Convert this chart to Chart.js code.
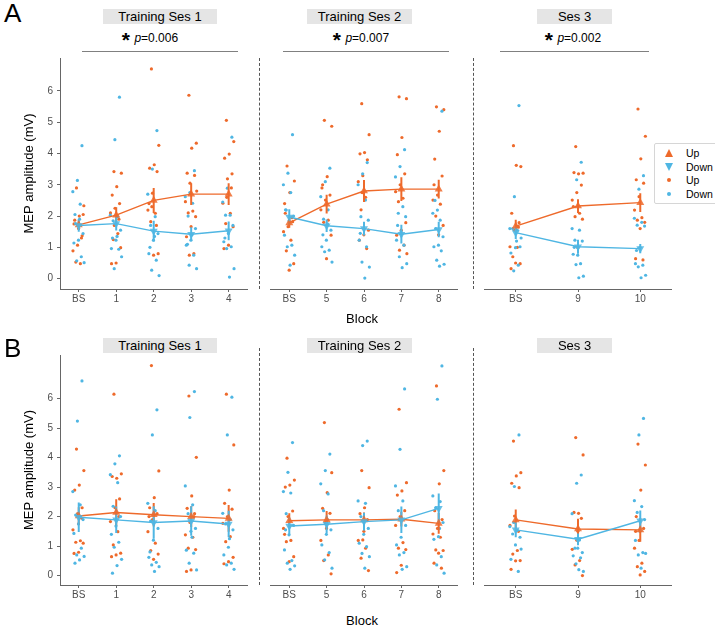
<!DOCTYPE html>
<html>
<head>
<meta charset="utf-8">
<script src="https://cdn.jsdelivr.net/npm/chart.js@4.4.1/dist/chart.umd.min.js"></script>
<style>
  body { margin:0; width:715px; height:626px; position:relative; overflow:hidden; background:#fff;
         font-family:"Liberation Sans", Arial, sans-serif; color:#000; }
  canvas { position:absolute; }
  .strip { position:absolute; background:#e5e5e5; font-size:13px; text-align:center; height:15px; line-height:15px; }
  .sep { position:absolute; width:0; border-left:1px dashed #555; }
  .pline { position:absolute; height:0; border-top:1.5px solid #808080; }
  .ptext { position:absolute; font-size:12px; white-space:nowrap; transform:translateX(-50%); line-height:14px; }
  .ptext b { font-size:21px; position:relative; top:5px; margin-right:1px; }
  .letter { position:absolute; left:4px; font-size:26px; line-height:26px; }
  .xlab { position:absolute; font-size:13px; transform:translate(-50%,-50%); }
  .legend { position:absolute; left:654px; top:143px; width:70px; height:59px; border:1px solid #d6d6d6; border-radius:2px; background:#fff; }
  .li { position:absolute; left:31px; font-size:10.5px; line-height:12px; }
  .sym { position:absolute; width:0; height:0; }
</style>
</head>
<body>
<script>
// categories
const blocks1 = ['BS', '1', '2', '3', '4'];
const blocks2 = ['BS', '5', '6', '7', '8'];
const blocks3 = ['BS', '9', '10'];

// ---------- panel A : individual values (mV), one list per block ----------
const aS1Up = [
  [2.9, 2.33, 2.0, 1.87, 1.37, 1.07, 0.89, 0.48, 0.53, 2.05, 1.6, 1.75, 1.3],
  [3.42, 3.37, 2.94, 2.67, 2.4, 2.25, 2.1, 1.44, 1.25, 0.99, 0.5, 0.48, 1.9, 1.7],
  [6.7, 4.26, 3.64, 3.53, 3.42, 2.73, 2.19, 2.09, 1.82, 0.8, 0.75, 2.4, 1.7, 2.3],
  [5.86, 4.33, 4.17, 3.37, 3.3, 3.05, 2.46, 2.16, 2.1, 1.98, 1.66, 1.34, 0.8, 0.75, 2.8],
  [5.06, 4.38, 3.98, 3.85, 3.35, 3.19, 2.41, 2.09, 1.76, 1.66, 1.07, 0.96, 2.9, 2.6]
];
const aS1Down = [
  [4.25, 3.14, 2.78, 2.38, 1.76, 1.44, 1.23, 1.14, 0.7, 0.57, 0.51, 1.9, 2.05],
  [5.8, 4.44, 2.03, 1.98, 1.85, 1.55, 1.23, 0.96, 0.94, 0.32, 0.7, 1.35, 1.3],
  [4.73, 3.5, 2.7, 1.98, 1.7, 1.44, 1.23, 0.8, 0.59, 0.27, 0.1, 1.35, 1.0],
  [3.45, 2.75, 2.62, 2.41, 2.0, 1.6, 1.23, 1.07, 0.75, 0.43, 0.32, 1.4, 1.1],
  [4.52, 2.89, 2.45, 2.03, 2.03, 1.7, 1.44, 1.18, 1.02, 0.96, 0.32, 0.05, 1.3]
];
const aS2Up = [
  [3.6, 3.12, 2.75, 2.09, 1.82, 1.66, 1.5, 1.23, 0.89, 0.48, 0.27, 2.4, 1.95],
  [5.06, 4.87, 3.26, 3.0, 2.67, 2.51, 2.2, 1.87, 1.8, 1.39, 0.64, 2.9],
  [5.59, 4.6, 4.03, 3.99, 3.8, 3.29, 3.1, 2.6, 2.2, 1.55, 1.4, 1.23, 0.96, 2.75],
  [5.81, 5.75, 4.51, 3.96, 3.35, 3.0, 2.78, 2.57, 2.46, 1.79, 1.55, 1.39, 1.07, 0.91, 0.8],
  [5.49, 5.4, 4.71, 3.82, 3.28, 2.67, 2.51, 2.38, 2.0, 1.7, 1.4, 3.0]
];
const aS2Down = [
  [4.6, 3.37, 3.0, 2.75, 2.19, 2.0, 1.85, 1.39, 1.07, 1.02, 0.75, 0.43, 2.2],
  [3.53, 3.1, 2.62, 2.2, 1.9, 1.55, 1.23, 1.02, 0.91, 0.86, 0.53, 1.75, 1.4],
  [3.71, 3.35, 3.0, 2.51, 1.98, 1.87, 1.6, 1.23, 1.02, 0.53, 0.37, 0.02, 1.45],
  [4.12, 3.58, 3.25, 2.3, 2.09, 1.98, 1.5, 1.23, 1.07, 0.7, 0.48, 0.35, 1.7],
  [5.35, 2.19, 2.09, 1.87, 1.6, 1.34, 1.07, 1.02, 0.89, 0.59, 0.46, 0.4, 2.5]
];
const aS3Up = [
  [4.25, 3.58, 3.62, 2.09, 1.79, 1.55, 1.02, 1.0, 0.7, 0.48, 0.5, 0.32, 1.65],
  [4.22, 3.37, 3.35, 3.39, 2.99, 2.75, 2.51, 2.09, 1.98, 1.9, 0.99, 2.3],
  [5.42, 4.55, 3.83, 3.16, 3.05, 2.62, 2.19, 1.95, 1.87, 1.8, 1.6, 0.64, 0.6]
];
const aS3Down = [
  [5.53, 2.62, 1.6, 1.55, 1.6, 1.02, 0.99, 0.82, 0.43, 0.25, 1.3, 1.2],
  [3.72, 3.16, 1.6, 1.55, 1.23, 1.2, 0.75, 0.78, 0.48, 0.45, 0.08, 0.03, 1.0],
  [3.29, 2.86, 1.93, 1.8, 1.71, 1.68, 1.0, 0.48, 0.43, 0.38, 0.11, 0.03, 0.9]
];
// group means and standard errors, panel A
const aS1UpMean = [1.72, 2.03, 2.5, 2.7, 2.7];
const aS1UpSe = [0.15, 0.25, 0.4, 0.35, 0.35];
const aS1DownMean = [1.7, 1.76, 1.52, 1.42, 1.53];
const aS1DownSe = [0.2, 0.22, 0.33, 0.22, 0.3];
const aS2UpMean = [1.78, 2.38, 2.8, 2.86, 2.86];
const aS2UpSe = [0.15, 0.3, 0.35, 0.38, 0.3];
const aS2DownMean = [1.97, 1.69, 1.6, 1.42, 1.57];
const aS2DownSe = [0.25, 0.2, 0.22, 0.3, 0.25];
const aS3UpMean = [1.68, 2.32, 2.43];
const aS3UpSe = [0.2, 0.22, 0.3];
const aS3DownMean = [1.47, 1.02, 0.96];
const aS3DownSe = [0.2, 0.22, 0.15];

// ---------- panel B ----------
const bS1Up = [
  [4.29, 3.56, 3.07, 2.9, 2.3, 2.1, 1.55, 1.18, 1.13, 1.1, 0.79, 0.75, 1.95],
  [6.15, 3.45, 3.3, 3.36, 2.6, 2.3, 1.83, 1.49, 1.04, 0.76, 0.7, 0.64, 2.0],
  [7.12, 3.55, 2.64, 2.3, 2.1, 1.9, 1.49, 1.1, 0.85, 0.73, 0.55, 2.0],
  [6.09, 4.01, 2.7, 2.28, 2.1, 1.8, 1.38, 1.3, 0.93, 0.88, 0.19, 0.14, 2.0],
  [6.15, 4.43, 2.9, 2.45, 2.25, 2.0, 1.77, 1.32, 1.15, 0.62, 0.47, 0.4]
];
const bS1Down = [
  [6.6, 5.24, 2.85, 2.4, 2.05, 1.9, 1.75, 1.43, 0.93, 0.7, 0.65, 0.53, 0.42],
  [4.06, 3.79, 3.42, 3.15, 2.35, 2.0, 1.68, 1.4, 1.13, 0.96, 0.55, 0.34, 0.08],
  [5.62, 4.77, 2.45, 2.2, 1.85, 1.6, 1.2, 0.62, 0.45, 0.36, 0.3, 0.14, 0.8],
  [6.24, 5.36, 3.04, 2.4, 2.1, 1.6, 1.5, 0.86, 0.76, 0.42, 0.19, 1.3],
  [6.05, 4.77, 2.11, 1.9, 1.75, 1.55, 0.96, 0.7, 0.42, 0.36, 0.21, 1.25]
];
const bS2Up = [
  [3.98, 3.24, 3.07, 3.0, 2.19, 2.0, 1.6, 1.19, 1.15, 0.64, 0.47, 1.4],
  [5.19, 3.49, 2.81, 2.28, 2.11, 1.8, 1.19, 0.7, 0.51, 0.06, 1.6],
  [3.56, 2.98, 2.3, 2.1, 1.9, 1.21, 1.19, 0.93, 0.59, 0.17, 1.5],
  [5.64, 3.15, 2.87, 2.73, 2.2, 2.0, 1.7, 1.12, 0.93, 0.88, 0.35, 0.1],
  [6.43, 3.56, 3.11, 2.2, 1.9, 1.6, 1.41, 1.3, 0.87, 0.85, 0.76, 0.42, 0.25]
];
const bS2Down = [
  [4.51, 3.5, 2.85, 2.8, 2.1, 1.7, 1.38, 0.87, 0.51, 0.42, 0.33, 0.21, 1.55],
  [4.12, 3.56, 3.11, 2.77, 2.2, 1.55, 1.4, 1.04, 0.78, 0.53, 0.25, 1.9],
  [4.56, 4.41, 2.53, 2.45, 2.0, 1.6, 1.4, 1.1, 0.98, 0.75, 0.64, 0.25],
  [6.33, 4.28, 3.04, 2.53, 2.2, 1.7, 1.3, 1.04, 0.78, 0.7, 0.3, 0.21],
  [7.11, 5.98, 2.7, 2.51, 2.3, 1.8, 1.32, 1.23, 0.64, 0.36, 0.08, 1.6]
];
const bS3Up = [
  [4.56, 3.49, 3.38, 3.13, 2.98, 2.02, 1.7, 0.85, 0.73, 0.51, 0.5, 0.21, 1.5],
  [4.68, 4.09, 2.11, 2.14, 1.94, 1.2, 0.89, 0.51, 0.36, 0.0, 1.5],
  [4.46, 3.75, 2.9, 2.0, 1.6, 1.19, 0.93, 0.42, 0.3, 0.14, 0.02, 1.5]
];
const bS3Down = [
  [4.77, 3.02, 1.66, 1.53, 1.41, 1.3, 1.04, 0.55, 0.14, 1.8, 0.9],
  [3.41, 3.13, 2.1, 1.21, 0.93, 0.78, 0.93, 0.67, 0.6, 0.4, 0.14, 0.2],
  [5.33, 4.77, 2.54, 2.34, 2.14, 1.9, 1.5, 1.19, 0.78, 0.7, 0.75, 0.25]
];
const bS1UpMean = [2.02, 2.14, 2.06, 2.0, 1.94];
const bS1UpSe = [0.3, 0.45, 0.4, 0.35, 0.45];
const bS1DownMean = [1.98, 1.89, 1.8, 1.85, 1.75];
const bS1DownSe = [0.5, 0.45, 0.55, 0.5, 0.45];
const bS2UpMean = [1.86, 1.89, 1.89, 1.91, 1.77];
const bS2UpSe = [0.25, 0.3, 0.25, 0.25, 0.35];
const bS2DownMean = [1.68, 1.74, 1.83, 1.89, 2.28];
const bS2DownSe = [0.3, 0.3, 0.3, 0.45, 0.5];
const bS3UpMean = [1.89, 1.58, 1.55];
const bS3UpSe = [0.35, 0.35, 0.4];
const bS3DownMean = [1.55, 1.23, 1.86];
const bS3DownSe = [0.25, 0.2, 0.35];

const yTicks = [0, 1, 2, 3, 4, 5, 6];
const pValues = ['0.006', '0.007', '0.002'];

const ORANGE = '#EE6A2B';
const BLUE = '#4FB6E3';
const AXIS = '#666';

// spread of the jittered dots (same look as geom_jitter)
function jit(k, half, seed) {
  const f = (k * 0.6180339887 + seed) % 1;
  return (f * 2 - 1) * half;
}

function dots(groups, half, seed) {
  const out = [];
  groups.forEach((vals, i) => vals.forEach((v, k) => out.push({ x: i + jit(k, half, seed), y: v })));
  return out;
}
function meanPts(m) { return m.map((v, i) => ({ x: i, y: v })); }
function errPts(m, se) {
  const out = [];
  m.forEach((v, i) => { out.push({ x: i, y: v - se[i] }, { x: i, y: v + se[i] }, { x: i, y: null }); });
  return out;
}

function addPanel(box, yr, cats, up, down, upM, upSe, dnM, dnSe, showY) {
  const c = document.createElement('canvas');
  const padT = 6, padR = 4, xAxisH = 22;
  const left = showY ? 0 : box.x0 - 4;
  const w = box.x1 + padR - left;
  const h = box.y1 - box.y0 + padT + xAxisH;
  c.width = w; c.height = h;
  c.style.left = left + 'px';
  c.style.top = (box.y0 - padT) + 'px';
  c.style.width = w + 'px'; c.style.height = h + 'px';
  document.body.appendChild(c);

  const half = 6 / ((box.x1 - box.x0) / cats.length);

  const yScale = {
    type: 'linear', min: yr[0], max: yr[1], display: showY,
    afterBuildTicks: s => { s.ticks = yTicks.map(v => ({ value: v })); },
    ticks: { font: { size: 10, family: 'Liberation Sans' }, color: '#4d4d4d', padding: 4 },
    grid: { drawOnChartArea: false, drawTicks: true, tickLength: 3, color: AXIS },
    border: { color: AXIS, width: 1 },
    title: { display: true, text: 'MEP amplitude (mV)', color: '#000',
             font: { size: 13, family: 'Liberation Sans' }, padding: { top: 22, bottom: 0 } }
  };
  if (showY) yScale.afterFit = s => { s.width = 60; s.paddingTop = 0; s.paddingBottom = 0; };

  new Chart(c, {
    type: 'scatter',
    data: {
      datasets: [
        { type: 'line', data: meanPts(upM), borderColor: ORANGE, borderWidth: 1.4,
          pointStyle: 'triangle', pointRadius: 4.6, pointBackgroundColor: 'rgba(238,106,43,0.85)',
          pointBorderWidth: 0, order: 1 },
        { type: 'line', data: meanPts(dnM), borderColor: BLUE, borderWidth: 1.4,
          pointStyle: 'triangle', rotation: 180, pointRadius: 4.6, pointBackgroundColor: 'rgba(79,182,227,0.85)',
          pointBorderWidth: 0, order: 0 },
        { type: 'line', data: errPts(upM, upSe), borderColor: ORANGE, borderWidth: 2,
          pointRadius: 0, spanGaps: false, order: 3 },
        { type: 'line', data: errPts(dnM, dnSe), borderColor: BLUE, borderWidth: 2,
          pointRadius: 0, spanGaps: false, order: 2 },
        { data: dots(up, half, 0.31), backgroundColor: ORANGE, pointRadius: 1.6, pointBorderWidth: 0, order: 5 },
        { data: dots(down, half, 0.77), backgroundColor: BLUE, pointRadius: 1.6, pointBorderWidth: 0, order: 4 }
      ]
    },
    options: {
      responsive: false, animation: false, events: [],
      layout: { padding: { top: padT, right: padR, left: showY ? 0 : 4, bottom: 0 } },
      plugins: { legend: { display: false }, tooltip: { enabled: false } },
      scales: {
        x: {
          type: 'linear', min: -0.5, max: cats.length - 0.5,
          afterBuildTicks: s => { s.ticks = cats.map((_, i) => ({ value: i })); },
          afterFit: s => { s.height = xAxisH; s.paddingLeft = 0; s.paddingRight = 0; },
          ticks: { autoSkip: false, maxRotation: 0, padding: 1, color: '#4d4d4d',
                   font: { size: 10, family: 'Liberation Sans' },
                   callback: v => cats[Math.round(v)] },
          grid: { drawOnChartArea: false, drawTicks: true, tickLength: 3, color: AXIS },
          border: { color: AXIS, width: 1 }
        },
        y: yScale
      }
    }
  });
}

function el(cls, style, html) {
  const d = document.createElement('div');
  d.className = cls;
  Object.assign(d.style, style);
  if (html) d.innerHTML = html;
  document.body.appendChild(d);
  return d;
}

const cols = [
  { x0: 60, x1: 248 },
  { x0: 270, x1: 458 },
  { x0: 484, x1: 672 }
];
const rowA = { y0: 58, y1: 289, yr: [-0.33, 7.05], strip: 9, sep: [58, 289], block: 318, letter: 0 };
const rowB = { y0: 355, y1: 585, yr: [-0.32, 7.48], strip: 338, sep: [348, 585], block: 620, letter: 334.5 };
const strips = [[103, 114, 'Training Ses 1'], [307, 105, 'Training Ses 2'], [537, 75, 'Ses 3']];
const seps = [259, 473];

addPanel({ ...cols[0], y0: rowA.y0, y1: rowA.y1 }, rowA.yr, blocks1, aS1Up, aS1Down, aS1UpMean, aS1UpSe, aS1DownMean, aS1DownSe, true);
addPanel({ ...cols[1], y0: rowA.y0, y1: rowA.y1 }, rowA.yr, blocks2, aS2Up, aS2Down, aS2UpMean, aS2UpSe, aS2DownMean, aS2DownSe, false);
addPanel({ ...cols[2], y0: rowA.y0, y1: rowA.y1 }, rowA.yr, blocks3, aS3Up, aS3Down, aS3UpMean, aS3UpSe, aS3DownMean, aS3DownSe, false);
addPanel({ ...cols[0], y0: rowB.y0, y1: rowB.y1 }, rowB.yr, blocks1, bS1Up, bS1Down, bS1UpMean, bS1UpSe, bS1DownMean, bS1DownSe, true);
addPanel({ ...cols[1], y0: rowB.y0, y1: rowB.y1 }, rowB.yr, blocks2, bS2Up, bS2Down, bS2UpMean, bS2UpSe, bS2DownMean, bS2DownSe, false);
addPanel({ ...cols[2], y0: rowB.y0, y1: rowB.y1 }, rowB.yr, blocks3, bS3Up, bS3Down, bS3UpMean, bS3UpSe, bS3DownMean, bS3DownSe, false);

[rowA, rowB].forEach(r => {
  strips.forEach(s => el('strip', { left: s[0] + 'px', width: s[1] + 'px', top: r.strip + 'px' }, s[2]));
  seps.forEach(x => el('sep', { left: x + 'px', top: r.sep[0] + 'px', height: (r.sep[1] - r.sep[0]) + 'px' }));
  el('xlab', { left: '362px', top: r.block + 'px' }, 'Block');
});
el('letter', { top: rowA.letter + 'px' }, 'A');
el('letter', { top: rowB.letter + 'px' }, 'B');

// significance lines
const pLines = [[82, 238, 150], [283, 449, 361], [500, 649, 573]];
pLines.forEach((p, i) => {
  el('pline', { left: p[0] + 'px', width: (p[1] - p[0]) + 'px', top: '51px' });
  el('ptext', { left: p[2] + 'px', top: '28px' }, '<b>*</b> <i>p</i>=' + pValues[i]);
});

// legend
const lg = el('legend', {});
const items = [
  { t: 'Up', y: 8.5, s: { borderLeft: '4.5px solid transparent', borderRight: '4.5px solid transparent', borderBottom: '8px solid ' + ORANGE } },
  { t: 'Down', y: 22.5, s: { borderLeft: '4.5px solid transparent', borderRight: '4.5px solid transparent', borderTop: '8px solid ' + BLUE } },
  { t: 'Up', y: 36, s: { width: '4px', height: '4px', borderRadius: '50%', background: ORANGE } },
  { t: 'Down', y: 49.5, s: { width: '4px', height: '4px', borderRadius: '50%', background: BLUE } }
];
items.forEach(it => {
  const s = document.createElement('div');
  s.className = 'sym';
  Object.assign(s.style, it.s);
  const sz = it.s.width ? 4 : 8;
  s.style.left = (it.s.width ? 12 : 9.5) + 'px';
  s.style.top = (it.y - sz / 2) + 'px';
  lg.appendChild(s);
  const t = document.createElement('div');
  t.className = 'li';
  t.style.top = (it.y - 6) + 'px';
  t.textContent = it.t;
  lg.appendChild(t);
});
</script>
</body>
</html>
